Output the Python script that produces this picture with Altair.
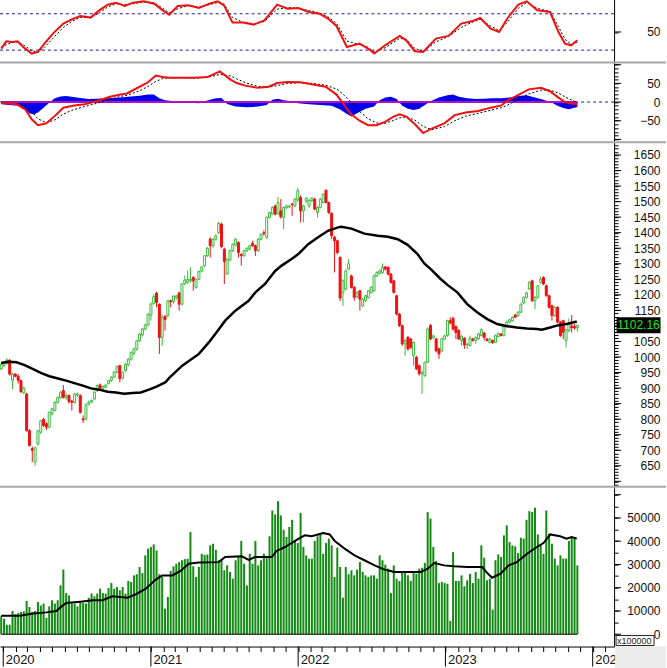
import altair as alt
import pandas as pd

# ---------------- weekly OHLC (index points) ----------------
opens = [962,972,980,990,925,945,938,924,885,881,763,705,662,720,758,799,785,774,817,828,
         854,870,892,870,876,858,854,878,876,801,801,848,855,865,892,910,898,903,915,924,
         935,951,972,932,956,975,993,1012,1026,1052,1072,1090,1103,1135,1172,1205,1170,1063,1130,1133,
         1181,1178,1192,1206,1170,1236,1240,1245,1256,1224,1250,1276,1294,1326,1379,1358,1379,1400,1428,1347,
         1267,1312,1342,1360,1368,1330,1326,1342,1347,1365,1358,1342,1379,1400,1385,1449,1460,1486,1461,1470,
         1449,1480,1483,1492,1486,1505,1513,1470,1502,1486,1503,1508,1465,1481,1497,1536,1497,1462,1385,1374,
         1320,1208,1219,1283,1261,1224,1194,1213,1165,1181,1192,1208,1213,1261,1269,1272,1290,1288,1267,1245,
         1197,1138,1101,1042,1063,1058,1004,999,972,946,940,983,1101,1063,1058,1026,1020,1058,1069,1117,
         1124,1098,1085,1053,1060,1039,1037,1058,1053,1058,1069,1077,1058,1047,1053,1047,1066,1074,1069,1099,
         1112,1117,1135,1133,1144,1174,1192,1219,1245,1181,1192,1240,1256,1229,1197,1165,1133,1160,1112,1117,
         1053,1085,1100,1098,1094]
highs = [980,986,996,993,950,948,945,928,905,885,768,712,712,765,798,805,790,825,836,858,
         873,890,910,882,880,862,885,886,880,812,850,860,864,890,912,915,908,913,926,938,
         955,972,975,953,980,996,1018,1030,1055,1077,1093,1108,1140,1176,1202,1210,1172,1135,1135,1183,
         1185,1198,1200,1210,1237,1262,1278,1288,1260,1252,1278,1292,1328,1354,1385,1382,1395,1435,1432,1352,
         1318,1345,1366,1382,1372,1334,1345,1353,1361,1374,1362,1382,1398,1408,1452,1468,1484,1490,1515,1508,
         1484,1490,1490,1496,1512,1545,1520,1490,1515,1508,1515,1512,1485,1512,1528,1540,1500,1466,1390,1378,
         1324,1250,1282,1315,1265,1228,1212,1216,1190,1200,1216,1228,1265,1276,1282,1301,1292,1292,1270,1248,
         1200,1142,1104,1058,1068,1062,1050,1004,976,955,986,1095,1106,1072,1062,1030,1062,1072,1120,1128,
         1130,1102,1090,1070,1064,1046,1069,1062,1066,1078,1092,1080,1060,1061,1056,1072,1079,1077,1102,1117,
         1123,1131,1138,1148,1173,1195,1210,1244,1249,1196,1232,1259,1260,1233,1200,1168,1163,1163,1116,1120,
         1090,1124,1135,1106,1104]
lows = [958,968,975,940,897,935,915,885,880,760,712,662,650,715,752,775,765,770,812,825,
        850,866,866,862,850,828,850,872,818,788,796,844,851,862,888,898,895,900,912,920,
        932,948,918,928,952,970,988,1005,1020,1048,1066,1085,1100,1117,1168,1160,1010,1036,1085,1128,
        1160,1172,1185,1149,1166,1232,1236,1240,1213,1220,1248,1272,1290,1322,1320,1352,1375,1396,1350,1235,
        1265,1308,1338,1356,1320,1294,1322,1338,1343,1355,1325,1338,1375,1390,1380,1445,1456,1455,1458,1445,
        1411,1476,1478,1454,1482,1498,1433,1433,1495,1480,1498,1472,1449,1478,1494,1494,1460,1380,1272,1330,
        1180,1165,1215,1280,1220,1181,1190,1149,1160,1176,1188,1204,1210,1257,1265,1268,1278,1262,1236,1204,
        1134,1096,1036,1004,1020,1026,972,958,940,881,936,980,1054,1058,1015,994,1016,1054,1065,1105,
        1085,1058,1055,1036,1026,1026,1034,1050,1042,1055,1066,1053,1050,1044,1042,1045,1063,1066,1066,1096,
        1109,1114,1125,1130,1141,1170,1188,1215,1178,1154,1188,1236,1231,1194,1156,1117,1128,1108,1065,1058,
        1031,1080,1079,1088,1082]
closes = [977,983,990,945,945,938,925,888,900,763,715,700,708,763,795,780,774,822,833,854,
          870,887,870,876,857,854,881,881,822,798,846,854,860,887,908,900,905,910,924,935,
          951,970,930,951,977,993,1015,1026,1052,1074,1090,1103,1138,1170,1194,1176,1063,1128,1120,1181,
          1178,1196,1197,1170,1235,1248,1250,1250,1245,1250,1275,1290,1326,1350,1358,1379,1390,1430,1355,1307,
          1315,1342,1363,1379,1336,1326,1342,1350,1358,1358,1342,1379,1395,1398,1449,1465,1481,1460,1497,1451,
          1481,1486,1485,1490,1508,1535,1470,1486,1511,1504,1511,1476,1481,1508,1524,1497,1465,1390,1374,1336,
          1190,1245,1277,1300,1224,1192,1208,1186,1186,1197,1213,1224,1261,1272,1277,1288,1283,1267,1240,1208,
          1138,1101,1042,1052,1026,1031,1047,962,946,950,983,1090,1058,1068,1020,1010,1058,1068,1117,1110,
          1090,1079,1058,1066,1039,1041,1060,1053,1063,1074,1088,1063,1053,1058,1047,1069,1076,1069,1099,1112,
          1120,1128,1128,1144,1170,1192,1206,1240,1181,1192,1229,1251,1235,1197,1160,1133,1160,1112,1069,1080,
          1088,1106,1095,1094,1102.16]
# weekly volume (x100000)
volumes = [7700,6700,4100,4100,10000,8600,9100,9600,9900,14300,
           11700,9600,10000,13900,12400,13200,7100,12000,14600,13200,
           14600,21000,27800,17700,16700,13200,13200,12000,13900,13400,
           13200,15700,17500,16300,17500,19600,17700,17500,19900,22000,
           19600,20300,18900,20300,17500,22900,22500,25300,25800,28900,
           26300,33900,36800,37500,38600,36000,25800,24600,11000,16000,
           27200,29200,30300,31000,31800,32300,32500,43900,29200,24600,
           28900,34600,34100,34300,38200,38900,36300,31800,32100,27500,
           29600,26800,23900,31800,33500,40100,30300,21000,34600,30300,
           40100,29600,31800,34600,33200,42100,53200,51500,57200,51100,
           44900,41800,46100,49200,40300,39200,
           52100,37500,33900,32500,32500,40100,42100,42900,34600,39200,
           41100,38200,24600,37200,28900,15700,28900,25800,27500,25300,
           27800,31000,26800,25300,24600,25300,25300,23900,33900,31800,
           29900,28200,17700,29600,23900,22900,26800,26800,25300,22900,
           26800,26000,28200,28600,30600,52500,49700,37500,31500,
           22000,22500,22000,21700,5700,35300,22900,22900,25300,20600,
           23200,26000,22000,26800,23900,38200,32900,23200,23900,10600,
           31800,34300,33200,42500,46800,39600,38200,37800,34900,41500,
           41100,49200,52900,52500,54400,42900,38200,34600,53200,
           43200,38900,32500,29600,33900,32500,32500,40100,41500,41800,
           29600]

# ---------------- price moving average ----------------
ma_week = [0,2.5,5.4,8.3,11.3,14.2,17.1,20.1,23,25.9,28.9,31.8,34.7,37.7,40.6,43.5,46.5,49.4,52.3,55,
           58.2,59.4,64.1,70,73.5,75.8,79.3,82.9,87.6,90,93.4,97,99.3,102.8,105.2,108.7,112.2,115.7,119.3,120.4,
           124,128.6,133.3,136.9,140.4,143.9,147.4,149.8,152.1,155.6,158,161.5,165,168.5,172.1,175.6,179.1,182.6,186.1,189.7,
           191.4,194.4,196.7,200.2,203.8]
ma_value = [981,985,983,974,961,948,938,931,924,916,908,899,895,888,886,882,884,886,895,905,
            919,932,972,1010,1047,1074,1117,1149,1181,1208,1235,1277,1294,1315,1331,1363,1385,1406,1417,1419,
            1413,1397,1390,1387,1379,1361,1331,1301,1283,1251,1232,1208,1170,1144,1122,1106,1099,1095,1092,1090,
            1088,1095,1101,1106,1114]

# ---------------- volume moving average ----------------
vma_week = [0,6.6,11.3,16,19.5,21.8,23,28.9,32.4,35.9,39.4,44.7,47.7,51.2,54.7,57,60.6,63.5,66.4,70,
            77,79.3,85.2,87.6,89.9,95.8,97.5,100.5,105.2,107.5,109.9,112.2,114,116.3,118.1,121.6,125.1,128.6,132.2,135.7,
            139.2,143.9,148.6,151,153.3,156.8,160.3,165,170.3,172.1,173.8,176.8,179.7,182.6,186.2,189.7,192,194.4,197.9,200.2,
            202,203.8]
vma_value = [8000,8000,8900,9400,10000,12400,13400,14100,14600,14600,16300,15700,17200,19600,23500,25300,25300,27200,30300,30800,
             31000,33200,33500,32000,33200,33200,35800,37500,41000,42500,42100,42900,43500,42900,40100,36800,33900,31800,29600,27800,
             26800,26800,26800,28200,30600,29600,29200,28900,28900,26300,24300,26000,29600,31000,34600,37500,39200,42900,42100,41100,
             41800,41100]

# ---------------- RSI ----------------
rsi_week = [0,1.8,4,5.8,7.8,10.8,13,15.3,18.3,22,25,28,31.7,34.7,37.7,40.7,43.7,46.7,50.5,54.2,
            57.2,59.5,62.5,66.2,70,73.7,76.7,78.9,81.9,85.7,89.4,93.2,97.7,101.4,105.2,108.9,112.7,115.7,118.7,122.4,
            126.9,129.9,132.1,135.9,141.1,143.4,146.4,149.4,153.9,158.4,162.9,166.6,169.6,173.3,176.3,179.3,183.1,186.1,189.8,194.3,
            197.3,199.6,201.8,204]
rsi_value = [31.7,39.7,39,39.7,33.5,26.2,28,37.2,48.2,59.2,63.9,67.6,65.8,73.8,80,82.2,78.6,82.2,83.7,81.1,
             73.8,69,78.6,79.3,76.4,81.1,83.7,79.3,60.3,60.3,58.1,62.8,80,75.6,76.4,72,70.1,64.7,56.6,33.5,
             37.2,31.7,26.2,35.3,45.6,40.8,28.8,28,42.7,45.6,59.2,61.7,65.4,53.7,50,65.4,80,83.7,73.8,72,
             50,37.2,35.3,40.8]
rsi_signal = [33,36,38.5,39,36,29.5,27.5,33,43,55,61.5,66,66,71,77.5,81,80,81,83,82,
              76,71,75.5,79,77.5,80,82.5,80.5,66,60.5,59,61.5,75,77,76,73.5,71,66.5,59.5,40,
              36,33,28,32.5,43,42,32,28.5,39,45,55,60.5,64,56.5,51.5,61,76,82.5,76,72.5,
              56,42,36.5,39]

# ---------------- MACD ----------------
macd_week = [0,5.5,8.5,10.8,13,16,19,22,25.8,29.5,34,38.5,42.2,44.5,49,52,54.7,57.2,59.5,64,
             68.5,73,77.4,81.2,83.4,86.4,90.9,94.7,97.7,101.4,105.9,110.4,114.9,118.7,120.9,123.9,126.9,129.9,132.9,135.9,
             138.9,141.1,143.4,146.4,149.4,152.4,156.9,160.6,164.4,168.9,173.3,177.1,179.3,182.3,186.8,191.1,194.3,197.3,199.6,201.8,
             204]
macd_value = [-2,-6,-19,-46,-62,-57,-37,-15,-9,-6,3,14,20,23,41,53,71,67,65,65,
              65,67,82,60,51,44,38,41,51,54,53,47,41,20,-2,-33,-50,-62,-62,-53,
              -39,-33,-39,-59,-83,-71,-57,-35,-28,-24,-15,-9,5,16,34,38,29,12,0,-4,
              -6]
macd_signal = [-2,-4,-10,-25,-45,-55,-48,-32,-20,-12,-3,8,15,18,30,42,55,63,65,65,
               64,66,74,70,62,52,42,40,44,50,52,50,45,35,22,0,-25,-45,-56,-57,
               -49,-42,-40,-48,-65,-74,-66,-50,-38,-30,-22,-15,-8,4,22,32,32,24,14,6,
               -1]
hist_week = [0,3,6,8,10,11.5,13,15,17,19,21,23,25,28,31,34,37,40,43,46,
             49,52,54,56,58,61,64,67,70,73,76,78,80,83,87,91,94,96,98,100,
             102,105,109,113,117,120,122,124,126,129,132,134,136,138,140,142,144,146,148,150,
             152,155,158,160,162,165,168,171,174,177,180,183,186,189,192,195,197,199,201,203,204]
hist_value = [-6,-8,-10,-20,-30,-33,-28,-15,-2,10,15,16,14,11,8,9,10,11,13,15,
              17,20,20,10,5,2,0,-2,-3,4,10,11,-5,-12,-14,-12,-8,6,9,5,
              3,-3,-6,-8,-10,-20,-30,-39,-30,-18,-12,5,12,14,8,-10,-18,-21,-18,-8,
              2,12,18,20,14,10,8,9,10,10,12,16,18,12,6,-2,-10,-16,-19,-15,-13]

rsi_levels = [70, 30]
last_close_label = "1102.16"

# ---------------- helpers ----------------
T0 = pd.Timestamp("2019-12-27", tz="UTC")


def to_ms(weeks):
    return [int((T0 + pd.Timedelta(days=7 * w)).value // 10**6) for w in weeks]


def ts(s):
    return int(pd.Timestamp(s, tz="UTC").value // 10**6)


X_DOMAIN = [ts("2019-12-24"), ts("2024-02-23")]
FONT = "Liberation Sans"
RED = "#ee1111"
GREEN = "#3cba3c"
VOLGREEN = "#138a13"
W = 615

n = len(closes)
candles = pd.DataFrame({
    "t": to_ms(range(n)), "open": opens, "high": highs, "low": lows,
    "close": closes, "vol": volumes,
})
ma_df = pd.DataFrame({"t": to_ms(ma_week), "v": ma_value})
vma_df = pd.DataFrame({"t": to_ms(vma_week), "v": vma_value})
rsi_df = pd.DataFrame({"t": to_ms(rsi_week), "v": rsi_value, "s": rsi_signal})
macd_df = pd.DataFrame({"t": to_ms(macd_week), "v": macd_value, "s": macd_signal})
hist_df = pd.DataFrame({"t": to_ms(hist_week), "h": hist_value})
span_df = pd.DataFrame({"t": [candles.t.iloc[0]], "t2": [candles.t.iloc[-1]], "v": [0]})
one = pd.DataFrame({"a": [0]})

xs = alt.Scale(type="utc", domain=X_DOMAIN, nice=False, padding=0)


def yscale(lo, hi):
    return alt.Scale(domain=[lo, hi], nice=False, zero=False, padding=0)


def right_axis(values, major, lo, hi, size=12):
    return alt.Axis(
        orient="right", values=values, format="d", title=None, grid=False,
        labelExpr=f"(datum.value % {major} === 0 && datum.value >= {lo} && datum.value <= {hi}) ? datum.label : ''",
        tickSize=4,
        labelAlign="right", labelBaseline="middle", labelPadding=42,
        labelOverlap=False, labelBound=False, labelFlush=False,
        domainColor="black", tickColor="black", labelColor="#111111",
        labelFont=FONT, labelFontSize=size,
    )


def separator(h):
    return alt.Chart(one).mark_rule(color="#a8a8a8", strokeWidth=2).encode(
        x=alt.value(0), x2=alt.value(667), y=alt.value(h - 1))


def major_ticks(values, Y):
    return alt.Chart(pd.DataFrame({"v": values})).mark_rule(color="black", strokeWidth=1).encode(
        x=alt.value(W), x2=alt.value(W + 7), y=Y("v"))


def X0():
    return alt.X("t:T", scale=xs, axis=None)


# ---------------- RSI panel ----------------
H1 = 64
rsi_y = yscale(15.4, 85.7)
rsi_ax = right_axis([50], 50, 50, 50)


def Y1(f):
    return alt.Y(f"{f}:Q", scale=rsi_y, axis=rsi_ax)


rsi_lines = alt.Chart(pd.DataFrame({"v": rsi_levels})).mark_rule(
    color="#1c1c9c", strokeDash=[3, 3], strokeWidth=1).encode(y=Y1("v"))
rsi_sig = alt.Chart(rsi_df).mark_line(color="black", strokeDash=[2, 2], strokeWidth=1).encode(
    x=X0(), y=Y1("s"))
rsi_line = alt.Chart(rsi_df).mark_line(color=RED, strokeWidth=2).encode(x=X0(), y=Y1("v"))
rsi_panel = alt.layer(rsi_lines, rsi_sig, rsi_line, major_ticks([50], Y1),
                      separator(H1)).properties(width=W, height=H1)

# ---------------- MACD panel ----------------
H2 = 80
macd_y = yscale(-110.4, 103.5)
macd_ax = right_axis(list(range(-100, 101, 10)), 50, -50, 50)


def Y2(f):
    return alt.Y(f"{f}:Q", scale=macd_y, axis=macd_ax)


hist = alt.Chart(hist_df).mark_area(color="#0000ee").encode(x=X0(), y=Y2("h"), y2=alt.datum(0))
zero_dash = alt.Chart(pd.DataFrame({"v": [0]})).mark_rule(
    color="#1c1c9c", strokeDash=[3, 3], strokeWidth=1).encode(y=Y2("v"))
zero_solid = alt.Chart(span_df).mark_rule(color="#b010c0", strokeWidth=2).encode(
    x=X0(), x2="t2:T", y=Y2("v"))
macd_sig = alt.Chart(macd_df).mark_line(color="black", strokeDash=[2, 2], strokeWidth=1).encode(
    x=X0(), y=Y2("s"))
macd_line = alt.Chart(macd_df).mark_line(color=RED, strokeWidth=2).encode(x=X0(), y=Y2("v"))
macd_panel = alt.layer(hist, zero_dash, zero_solid, macd_sig, macd_line,
                       major_ticks([-100, -50, 0, 50, 100], Y2), separator(H2)).properties(
    width=W, height=H2)

# ---------------- price panel ----------------
H3 = 345
py = yscale(579.3, 1687.6)
price_ax = right_axis(list(range(590, 1690, 10)), 50, 650, 1650)


def Y3(f):
    return alt.Y(f"{f}:Q", scale=py, axis=price_ax)


up = "datum.close >= datum.open"
wicks = alt.Chart(candles).mark_rule(strokeWidth=1).encode(
    x=X0(), y=Y3("low"), y2="high:Q",
    color=alt.condition(up, alt.value(GREEN), alt.value(RED)))
bodies = alt.Chart(candles).mark_bar(width=2, strokeWidth=1).encode(
    x=X0(), y=Y3("open"), y2="close:Q",
    fill=alt.condition(up, alt.value("white"), alt.value(RED)),
    stroke=alt.condition(up, alt.value(GREEN), alt.value(RED)))
ma_line = alt.Chart(ma_df).mark_line(color="black", strokeWidth=2.5).encode(x=X0(), y=Y3("v"))
last_df = pd.DataFrame({"v": [closes[-1]], "lab": [last_close_label]})
last_box = alt.Chart(last_df).mark_tick(color="black", size=44, thickness=16, opacity=1).encode(
    x=alt.value(639.5), y=Y3("v"))
last_txt = alt.Chart(last_df).mark_text(color="#19e619", font=FONT, fontSize=12, align="center",
                                        baseline="middle").encode(
    x=alt.value(639.5), y=Y3("v"), text="lab:N")
price_panel = alt.layer(wicks, bodies, ma_line, major_ticks(list(range(600, 1690, 50)), Y3),
                        last_box, last_txt, separator(H3)).properties(width=W, height=H3)

# ---------------- volume panel ----------------
H4 = 159
vy = yscale(-5280, 62960)
vol_ax = right_axis(list(range(0, 62001, 5000)), 10000, 0, 50000)
month_vals = [ts(f"{y}-{m:02d}-01") for y in range(2020, 2025) for m in range(1, 13)
              if ts(f"{y}-{m:02d}-01") < X_DOMAIN[1]]
year_vals = [ts(f"{y}-01-01") for y in range(2020, 2025)]
x_axis = alt.Axis(
    values=month_vals, title=None, grid=False,
    labelExpr="utcmonth(datum.value) === 0 ? '' + utcyear(datum.value) : ''",
    tickSize=5,
    labelAlign="left", labelBaseline="top", labelPadding=2, labelOffset=2,
    labelOverlap=False, labelBound=False, labelFlush=False,
    domainColor="black", tickColor="black", labelColor="#111111",
    labelFont=FONT, labelFontSize=13,
)


def X4(f="t"):
    return alt.X(f"{f}:T", scale=xs, axis=x_axis)


def Y4(f):
    return alt.Y(f"{f}:Q", scale=vy, axis=vol_ax)


vol_bars = alt.Chart(candles).mark_bar(width=2, color=VOLGREEN).encode(x=X4(), y=Y4("vol"))
year_ticks = alt.Chart(pd.DataFrame({"t": year_vals})).mark_rule(color="black", strokeWidth=1).encode(
    x=X4(), y=alt.value(H4), y2=alt.value(H4 + 20))
base_line = alt.Chart(span_df).mark_rule(color="black", strokeWidth=1).encode(
    x=X4(), x2="t2:T", y=Y4("v"))
vma_line = alt.Chart(vma_df).mark_line(color="black", strokeWidth=2).encode(x=X4(), y=Y4("v"))
corner = alt.Chart(one).mark_rect(color="#ececec").encode(
    x=alt.value(616), x2=alt.value(667), y=alt.value(H4), y2=alt.value(H4 + 22))
unit_box = alt.Chart(one).mark_rect(fill="white", stroke="#222222", strokeWidth=1).encode(
    x=alt.value(617), x2=alt.value(655), y=alt.value(H4 - 11), y2=alt.value(H4 - 1))
unit_txt = alt.Chart(one).mark_text(text="x100000", font=FONT, fontSize=9, align="left",
                                    baseline="middle", color="#222222").encode(
    x=alt.value(618), y=alt.value(H4 - 6))
vol_panel = alt.layer(vol_bars, base_line, vma_line, year_ticks,
                      major_ticks(list(range(0, 62001, 10000)), Y4),
                      corner, unit_box, unit_txt).properties(width=W, height=H4)

chart = alt.vconcat(rsi_panel, macd_panel, price_panel, vol_panel, spacing=0,
                    bounds="flush", background="white",
                    padding={"left": -4, "top": -4, "right": 0, "bottom": 0},
                    ).configure_view(stroke=None)

chart.save("out.html", embed_options={"renderer": "svg", "actions": False})
